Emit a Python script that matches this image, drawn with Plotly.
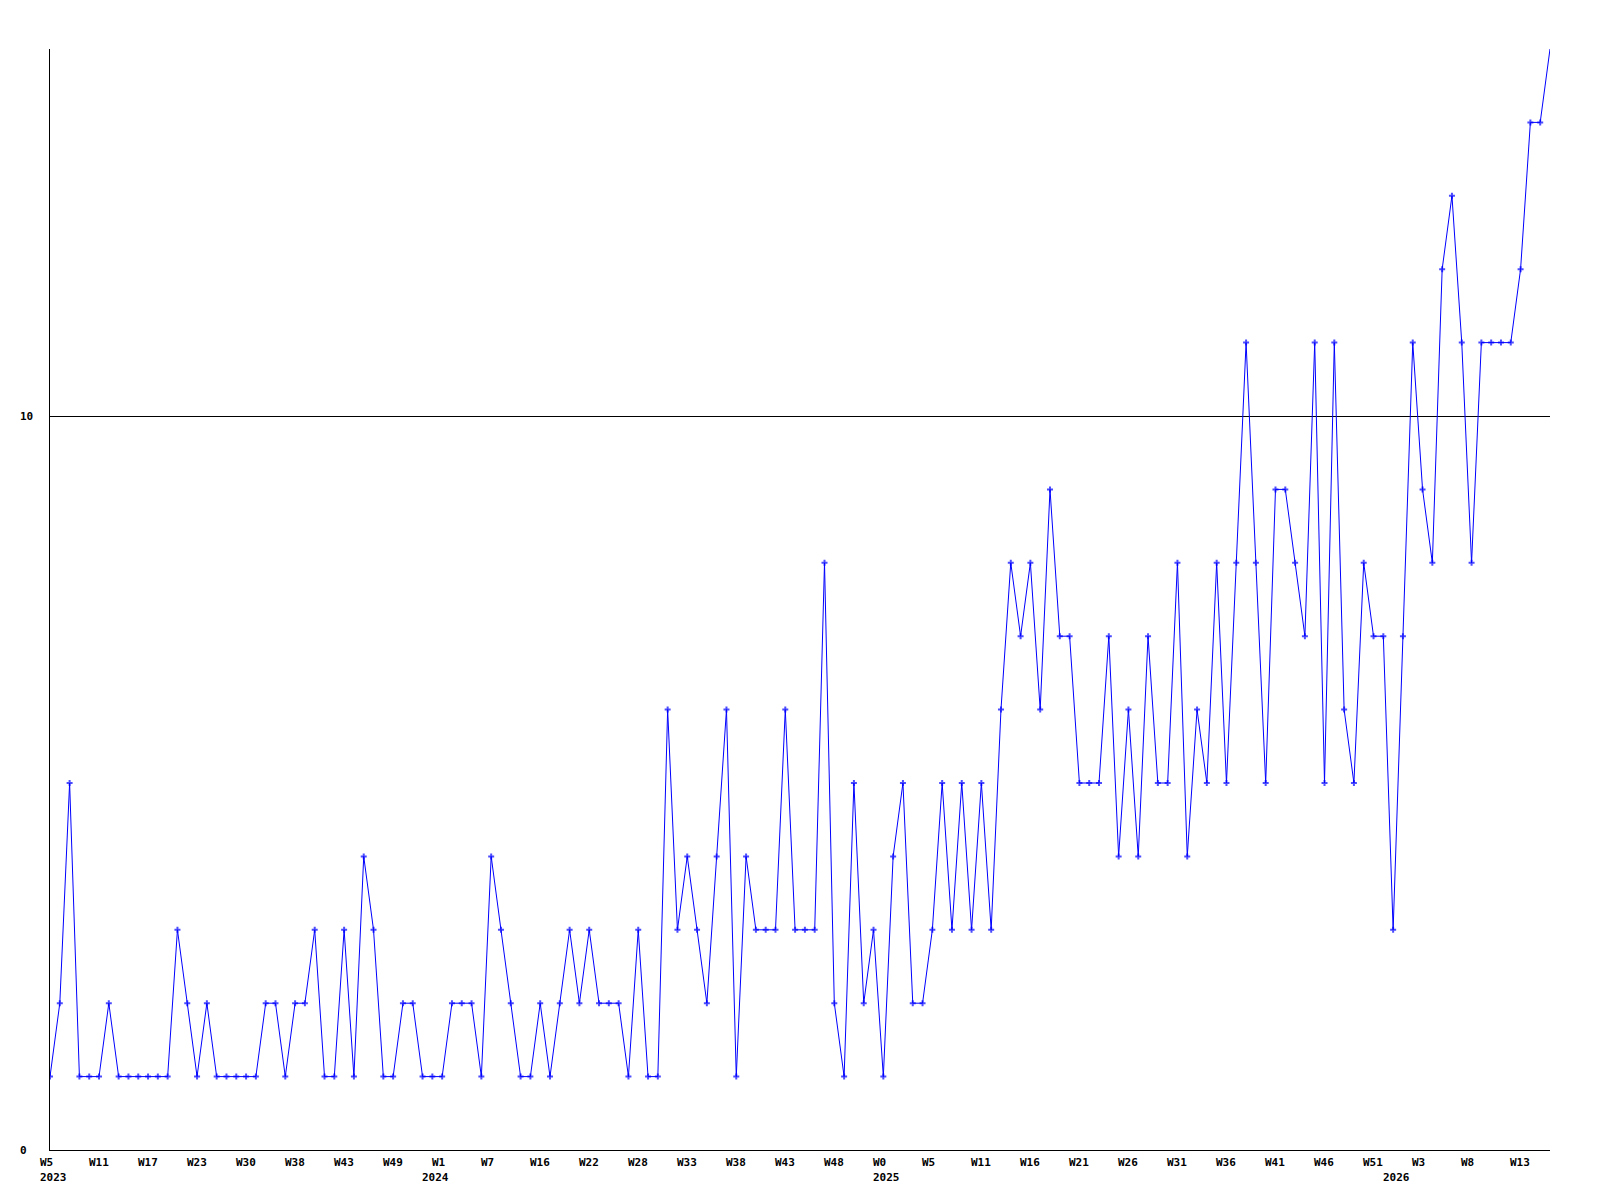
import plotly.graph_objects as go

# Weekly values, one per week, oldest first
values = [
    1, 2, 5, 1, 1, 1, 2, 1, 1, 1, 1, 1, 1, 3, 2, 1, 2, 1, 1, 1,
    1, 1, 2, 2, 1, 2, 2, 3, 1, 1, 3, 1, 4, 3, 1, 1, 2, 2, 1, 1,
    1, 2, 2, 2, 1, 4, 3, 2, 1, 1, 2, 1,
    2, 3, 2, 3, 2, 2, 2, 1, 3, 1, 1, 6, 3, 4, 3, 2, 4, 6, 1, 4,
    3, 3, 3, 6, 3, 3, 3, 8, 2, 1, 5, 2, 3, 1, 4, 5, 2, 2, 3, 5,
    3, 5, 3, 5, 3, 6,
    8, 7, 8, 6, 9, 7, 7, 5, 5, 5, 7, 4, 6, 4, 7, 5, 5, 8, 4, 6,
    5, 8, 5, 8, 11, 8, 5, 9, 9, 8, 7, 11, 5, 11, 6, 5, 8, 7, 7, 3,
    7, 11, 9, 8, 12, 13, 11, 8, 11, 11, 11, 11, 12, 14, 14, 15,
]

# Week tick labels (one every 5 points)
week_tick_pos = list(range(0, 151, 5))
week_tick_labels = [
    "W5", "W11", "W17", "W23", "W30", "W38", "W43", "W49", "W1", "W7",
    "W16", "W22", "W28", "W33", "W38", "W43", "W48", "W0", "W5", "W11",
    "W16", "W21", "W26", "W31", "W36", "W41", "W46", "W51", "W3", "W8", "W13",
]
year_pos = [0, 39, 85, 137]
year_labels = ["2023", "2024", "2025", "2026"]

y_tick_vals = [0, 10]
y_tick_labels = ["0", "10"]

x = list(range(len(values)))
FONT = dict(family="DejaVu Sans Mono", size=11, color="black")
BLUE = "#0000FF"

marker_sizes = [5] * len(values)
marker_sizes[-1] = 0

fig = go.Figure()
fig.add_trace(go.Scatter(
    x=x, y=values, mode="lines+markers",
    line=dict(color=BLUE, width=1),
    marker=dict(symbol="cross", size=marker_sizes, color=BLUE, line=dict(width=0)),
    hoverinfo="skip",
))

annotations = []
for p, t in zip(week_tick_pos, week_tick_labels):
    annotations.append(dict(
        x=p, xref="x", y=0, yref="paper", text="<b>%s</b>" % t, showarrow=False,
        xanchor="left", yanchor="middle", xshift=-10.3, yshift=-12.5,
        font=FONT, borderpad=0, borderwidth=0,
    ))
for p, t in zip(year_pos, year_labels):
    annotations.append(dict(
        x=p, xref="x", y=0, yref="paper", text="<b>%s</b>" % t, showarrow=False,
        xanchor="left", yanchor="middle", xshift=-10.3, yshift=-27,
        font=FONT, borderpad=0, borderwidth=0,
    ))
for v, t in zip(y_tick_vals, y_tick_labels):
    annotations.append(dict(
        x=0, xref="paper", y=v, yref="y", text="<b>%s</b>" % t, showarrow=False,
        xanchor="left", yanchor="middle", xshift=-30,
        font=FONT, borderpad=0, borderwidth=0,
    ))

# the page body adds an 8px offset, so the figure is 8px smaller and margins shifted
fig.update_layout(
    width=1592, height=1192,
    margin=dict(l=42, r=50, t=41, b=50),
    paper_bgcolor="white", plot_bgcolor="white",
    showlegend=False,
    font=FONT,
    annotations=annotations,
    xaxis=dict(
        range=[0, len(values) - 1], showgrid=False, zeroline=False,
        showline=True, linecolor="black", linewidth=1,
        showticklabels=False, ticks="",
    ),
    yaxis=dict(
        range=[0, 15], tickvals=y_tick_vals, showgrid=True,
        gridcolor="black", gridwidth=1, zeroline=False,
        showline=True, linecolor="black", linewidth=1,
        showticklabels=False, ticks="",
    ),
)

fig.write_html("out.html", config={"displayModeBar": False})
